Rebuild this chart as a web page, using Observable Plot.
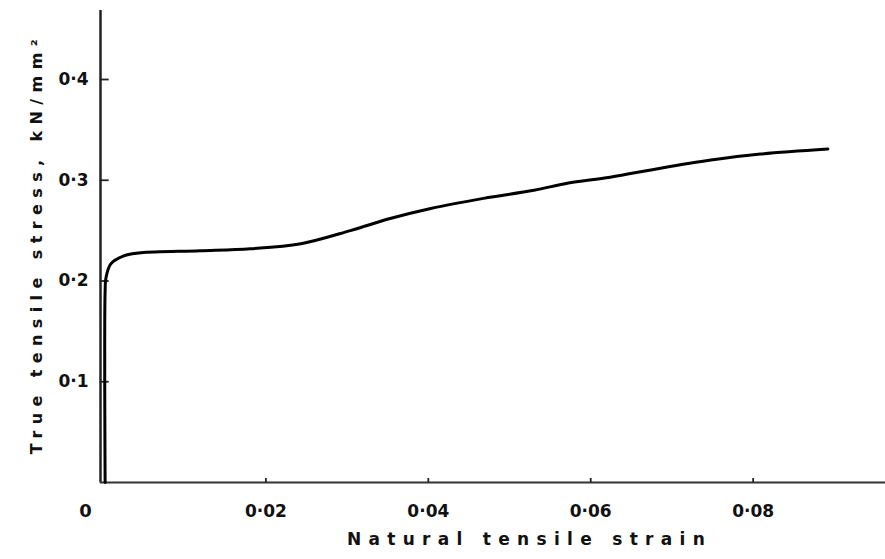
<!DOCTYPE html>
<html>
<head>
<meta charset="utf-8">
<script src="https://cdn.jsdelivr.net/npm/d3@7"></script>
<script src="https://cdn.jsdelivr.net/npm/@observablehq/plot@0.6"></script>
<style>
  html, body { margin: 0; padding: 0; background: #fff; }
  svg { display: block; }
</style>
</head>
<body>
<div id="chart"></div>
<script>
// Natural tensile strain (x) vs true tensile stress, kN/mm² (y)
const strain = [0.0002, 0.0002, 0.0003, 0.0009, 0.0025, 0.0046, 0.0119, 0.0181, 0.0243, 0.0304, 0.0353, 0.0403, 0.0468, 0.0530, 0.0571, 0.0624, 0.0686, 0.0748, 0.0809, 0.0892];
const stress = [0.000, 0.190, 0.203, 0.217, 0.225, 0.228, 0.230, 0.232, 0.237, 0.250, 0.262, 0.272, 0.282, 0.290, 0.297, 0.303, 0.312, 0.320, 0.326, 0.331];

const xTicks = [0.02, 0.04, 0.06, 0.08];
const yTicks = [0.1, 0.2, 0.3, 0.4];
const xTickLabels = ["0·02", "0·04", "0·06", "0·08"];
const yTickLabels = ["0·1", "0·2", "0·3", "0·4"];
const originLabel = "0";
const xTitle = "Natural tensile strain";
const yTitle = "True tensile stress, kN/mm²";

const data = strain.map((s, i) => ({strain: s, stress: stress[i]}));
const font = "DejaVu Sans";

const chart = Plot.plot({
  width: 885,
  height: 559,
  marginLeft: 103,
  marginRight: 0,
  marginTop: 10,
  marginBottom: 77,
  style: {background: "#fff", fontFamily: font},
  x: {domain: [0, 0.0963], axis: null},
  y: {domain: [0, 0.4685], axis: null},
  marks: [
    // axis lines
    Plot.ruleX([0], {y1: 0, y2: 0.4685, dx: -3, stroke: "#222", strokeWidth: 2.5}),
    Plot.ruleY([0], {x1: -0.0004, x2: 0.0963, stroke: "#333", strokeWidth: 2.2}),
    // ticks
    Plot.ruleY(yTicks, {x1: -0.0004, x2: 0.0007, stroke: "#222", strokeWidth: 1.8}),
    Plot.ruleX(xTicks, {y1: 0, y2: 0.004, stroke: "#222", strokeWidth: 1.8}),
    // tick labels
    Plot.text(yTicks, {x: 0, y: d => d, text: (d, i) => yTickLabels[i], textAnchor: "end", dx: -15, fontSize: 17, fontWeight: "bold", fill: "#111"}),
    Plot.text(xTicks, {x: d => d, y: 0, text: (d, i) => xTickLabels[i], dy: 29, fontSize: 17, fontWeight: "bold", fill: "#111"}),
    Plot.text([originLabel], {x: 0, y: 0, text: d => d, dx: -18, dy: 29, fontSize: 18, fontWeight: "bold", fill: "#111"}),
    // curve
    Plot.line(data, {x: "strain", y: "stress", curve: "catmull-rom", stroke: "#000", strokeWidth: 3}),
    // titles
    Plot.text([xTitle], {frameAnchor: "bottom", text: d => d, textAnchor: "middle", dx: 35, dy: 62, fontSize: 17, fontWeight: "bold", fill: "#111"}),
    Plot.text([yTitle], {frameAnchor: "left", text: d => d, textAnchor: "middle", rotate: -90, dx: -67, dy: -3, fontSize: 16, fontWeight: "bold", fill: "#111"})
  ]
});

d3.select(chart).selectAll("text").each(function() {
  const t = this.textContent;
  if (t === xTitle) this.setAttribute("letter-spacing", "7.3px");
  if (t === yTitle) this.setAttribute("letter-spacing", "6.4px");
});
document.getElementById("chart").append(chart);
</script>
</body>
</html>
